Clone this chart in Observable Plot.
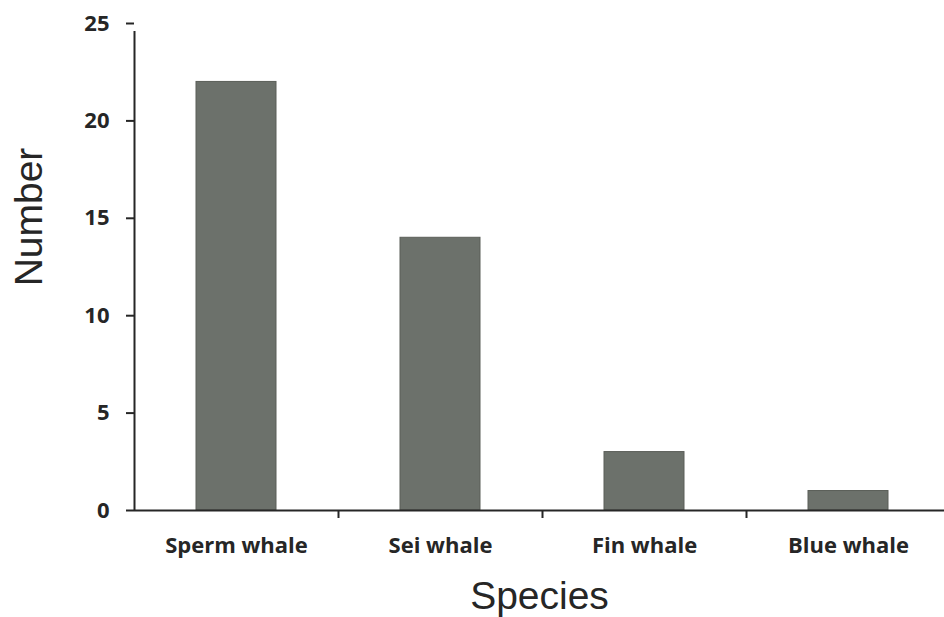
<!DOCTYPE html>
<html>
<head>
<meta charset="utf-8">
<script src="https://cdn.jsdelivr.net/npm/d3@7"></script>
<script src="https://cdn.jsdelivr.net/npm/@observablehq/plot@0.6"></script>
<style>
  html, body { margin: 0; padding: 0; background: #fff; }
  #chart { width: 944px; height: 617px; }
</style>
</head>
<body>
<div id="chart"></div>
<script>
const species = ["Sperm whale", "Sei whale", "Fin whale", "Blue whale"];
const counts = [22, 14, 3, 1];
const yTicks = [0, 5, 10, 15, 20, 25];
const xTitle = "Species";
const yTitle = "Number";

const data = species.map((s, i) => ({species: s, count: counts[i], i}));
const boundaries = d3.range(1, species.length);

const ink = "#262626";
const labelFont = "'Open Sans', Lato, sans-serif";
const titleFont = "'Liberation Sans', Arial, sans-serif";

const chart = Plot.plot({
  width: 944,
  height: 617,
  marginLeft: 134,
  marginRight: 0,
  marginTop: 23,
  marginBottom: 107,
  style: {background: "#fff", color: ink},
  x: {domain: [0, species.length], range: [134, 950], axis: null},
  y: {domain: [0, 25], axis: null},
  marks: [
    Plot.rectY(data, {
      x1: "i", x2: d => d.i + 1, y1: 0, y2: "count",
      insetLeft: 62, insetRight: 62,
      fill: "#6c716b", stroke: "#5b5f59", strokeWidth: 1
    }),
    Plot.axisY({
      ticks: yTicks, tickSize: 8, tickPadding: 17, label: null,
      fontSize: 22, fontWeight: "bold", fontFamily: labelFont,
      strokeWidth: 2, stroke: ink, fill: ink
    }),
    Plot.ruleX([0], {y1: 0, y2: 25, insetBottom: -8, stroke: ink, strokeWidth: 2}),
    Plot.ruleY([0], {stroke: ink, strokeWidth: 2}),
    Plot.ruleX(boundaries, {y1: 0, y2: 0, insetBottom: -8, stroke: ink, strokeWidth: 2}),
    Plot.text(data, {
      x: d => d.i + 0.5, y: 0, text: "species", dy: 35,
      fontSize: 22, fontWeight: "bold", fontFamily: labelFont, fill: ink
    }),
    Plot.text([xTitle], {
      frameAnchor: "bottom", dy: 86, lineAnchor: "middle", text: d => d,
      fontSize: 39, fontFamily: titleFont, fill: ink
    }),
    Plot.text([yTitle], {
      frameAnchor: "left", dx: -105, dy: -50, rotate: -90, textAnchor: "middle",
      text: d => d, fontSize: 39, fontFamily: titleFont, fill: ink
    })
  ]
});
document.getElementById("chart").appendChild(chart);
</script>
</body>
</html>
